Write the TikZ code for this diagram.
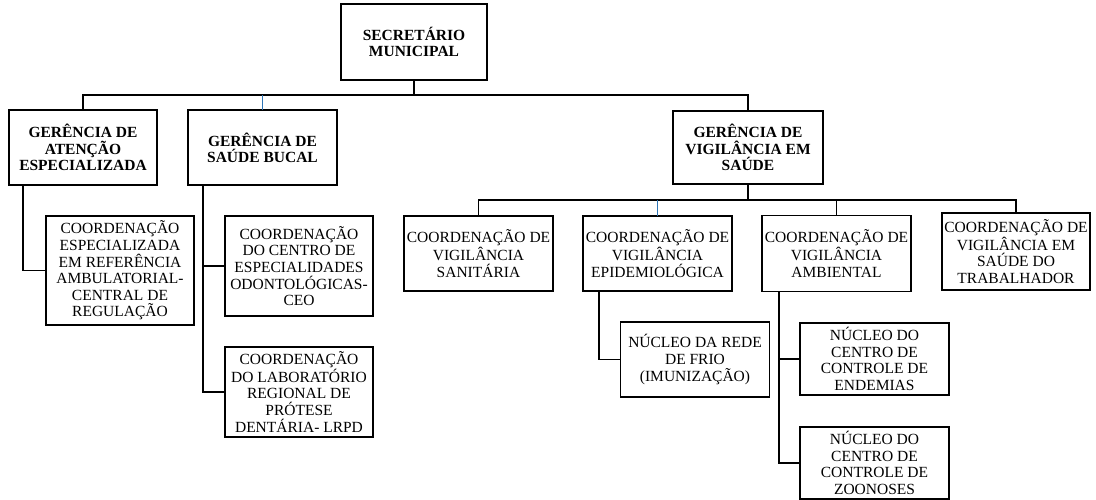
\documentclass[tikz,border=0pt]{standalone}
\usepackage{fontspec}
\setmainfont{Liberation Serif}
\usetikzlibrary{positioning}

\definecolor{linkblue}{RGB}{46,117,182}
\tikzset{
  box/.style={draw, line width=1.7pt, outer sep=0pt, inner sep=1pt, align=center,
    minimum width=149pt, minimum height=75pt, font=\fontsize{15.5}{16.6}\selectfont},
  mgr/.style={box, font=\fontsize{15.5}{16.2}\selectfont\bfseries},
  unit/.style={box},
  link/.style={line width=1.5pt},
  bluelink/.style={link, draw=linkblue},
}

\begin{document}
\begin{tikzpicture}[x=1pt, y=-1pt]
\useasboundingbox (0,0) rectangle (1096,499);

\node[mgr, minimum width=146pt, minimum height=76pt] (sec) at (414,42) {SECRETÁRIO\\MUNICIPAL};
\node[mgr, minimum width=148pt] (gae) at (83,147.5) {GERÊNCIA DE\\ATENÇÃO\\ESPECIALIZADA};
\node[mgr] (gsb) [right=31pt of gae] {GERÊNCIA DE\\SAÚDE BUCAL};
\node[mgr, minimum width=150pt, minimum height=73pt] (gvs) at (748,147.5) {GERÊNCIA DE\\VIGILÂNCIA EM\\SAÚDE};

\node[unit, minimum width=148pt, minimum height=109pt] (cera) at (120,270.5) {COORDENAÇÃO\\ESPECIALIZADA\\EM REFERÊNCIA\\AMBULATORIAL-\\CENTRAL DE\\REGULAÇÃO};
\node[unit, minimum width=148pt, minimum height=100pt] (ceo) at (299,266) {COORDENAÇÃO\\DO CENTRO DE\\ESPECIALIDADES\\ODONTOLÓGICAS-\\CEO};
\node[unit, minimum width=148pt, minimum height=90pt] (lrpd) [below=31pt of ceo] {COORDENAÇÃO\\DO LABORATÓRIO\\REGIONAL DE\\PRÓTESE\\DENTÁRIA- LRPD};

\node[unit] (visa) at (478.5,253.5) {COORDENAÇÃO DE\\VIGILÂNCIA\\SANITÁRIA};
\node[unit] (viep) [right=30pt of visa] {COORDENAÇÃO DE\\VIGILÂNCIA\\EPIDEMIOLÓGICA};
\node[unit, minimum height=76pt] (viam) [right=30pt of viep] {COORDENAÇÃO DE\\VIGILÂNCIA\\AMBIENTAL};
\node[unit, minimum width=148pt, minimum height=77pt] (vist) at (1016,251.5) {COORDENAÇÃO DE\\VIGILÂNCIA EM\\SAÚDE DO\\TRABALHADOR};

\node[unit] (frio) at (695,359.5) {NÚCLEO DA REDE\\DE FRIO\\(IMUNIZAÇÃO)};
\node[unit, minimum height=72pt] (ende) at (874.5,359) {NÚCLEO DO\\CENTRO DE\\CONTROLE DE\\ENDEMIAS};
\node[unit, minimum height=72pt] (zoo) [below=32pt of ende] {NÚCLEO DO\\CENTRO DE\\CONTROLE DE\\ZOONOSES};

\coordinate (bus1) at (0,95);
\coordinate (bus2) at (0,200);

\draw[link] (sec.south) -- (sec.south |- bus1);
\draw[link] (gae.north) |- (gvs.north |- bus1) -- (gvs.north);
\draw[bluelink] (gsb.north) -- (gsb.north |- bus1);

\draw[link] (gvs.south) -- (gvs.south |- bus2);
\draw[link] (visa.north) |- (vist.north |- bus2) -- (vist.north);
\draw[link] (viam.north) -- (viam.north |- bus2);
\draw[bluelink] (viep.north) -- (viep.north |- bus2);

\draw[link] ([xshift=14pt]gae.south west) |- (cera.west);
\draw[link] ([xshift=15pt]gsb.south west) coordinate (gsbx) |- (lrpd.west);
\draw[link] (ceo.west) -- (ceo.west -| gsbx);
\draw[link] ([xshift=16pt]viep.south west) |- (frio.west);
\draw[link] ([xshift=17pt]viam.south west) coordinate (viamx) |- (zoo.west);
\draw[link] (ende.west) -- (ende.west -| viamx);
\end{tikzpicture}
\end{document}
